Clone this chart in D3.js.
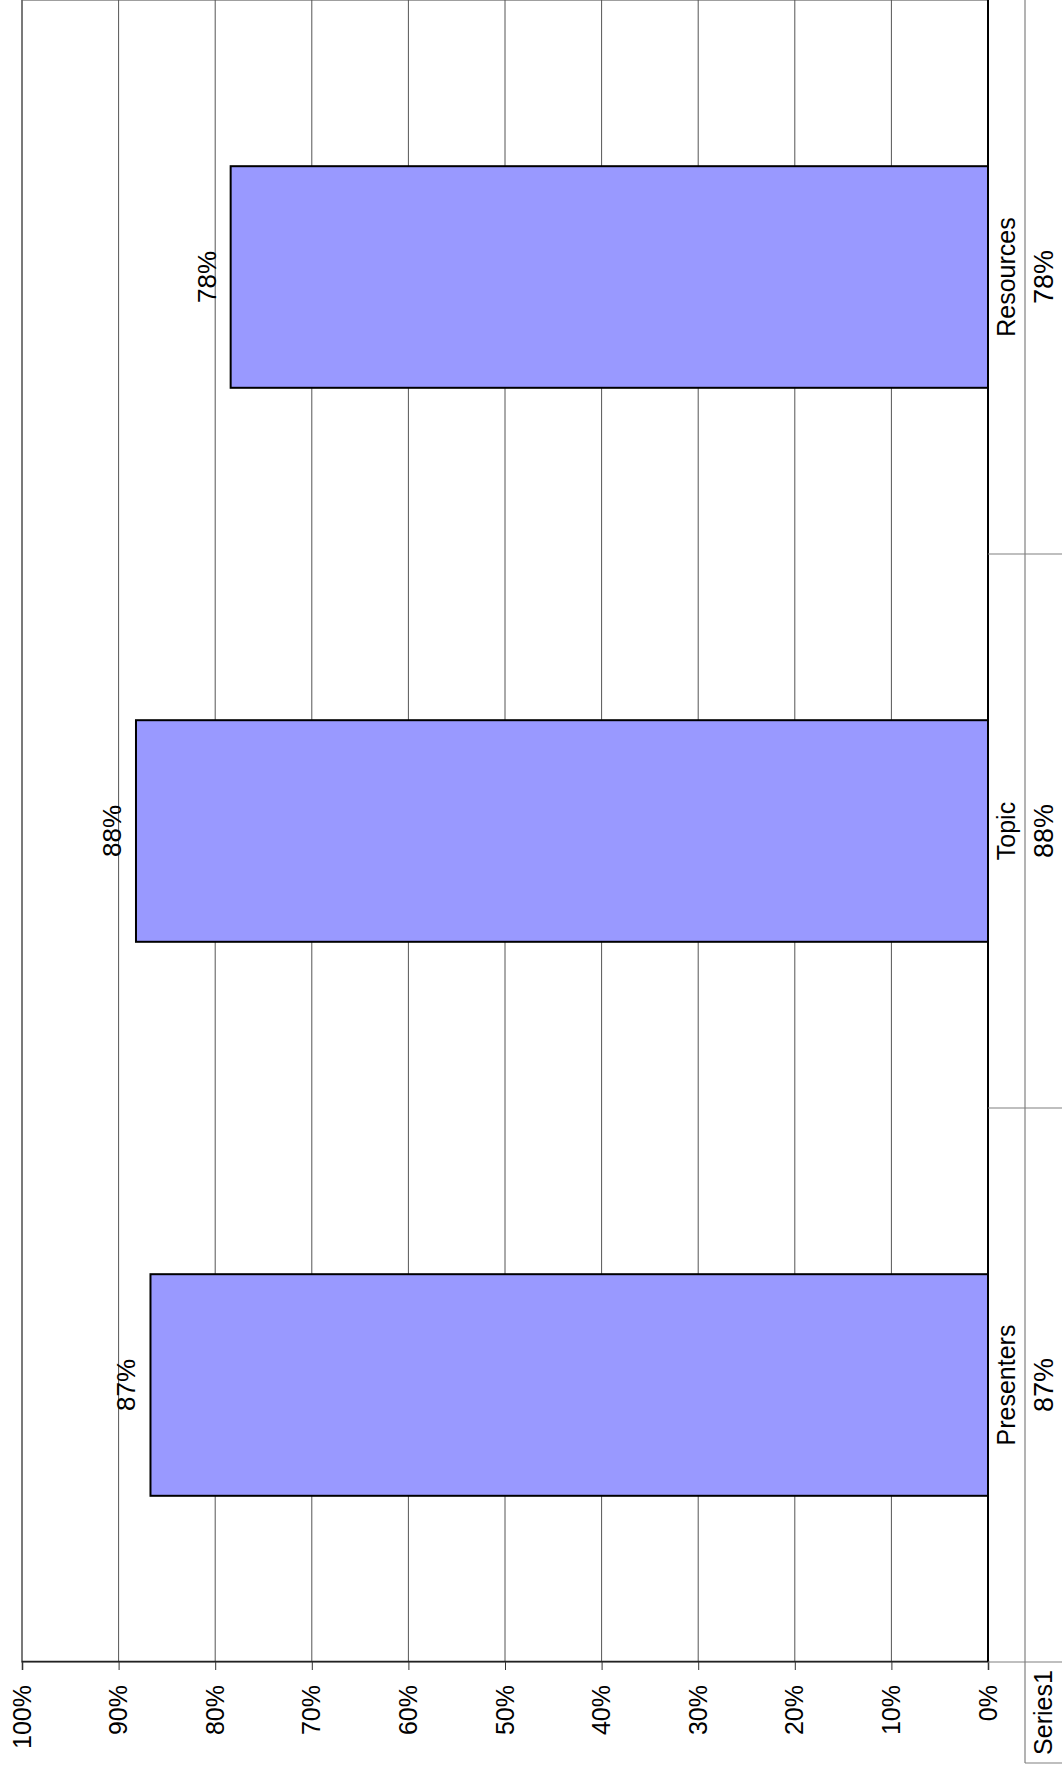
<!DOCTYPE html>
<html>
<head>
<meta charset="utf-8">
<script src="https://cdn.jsdelivr.net/npm/d3@7"></script>
<style>
    body { margin: 0; background: #fff; }
    text { font-family: 'Liberation Sans', Arial, sans-serif; fill: #000; }
</style>
</head>
<body>
<svg id="chart"></svg>
<script>
const categories = ['Presenters', 'Topic', 'Resources'];
const values = [0.867, 0.882, 0.784];
const seriesName = 'Series1';
const yTicks = [0, 0.1, 0.2, 0.3, 0.4, 0.5, 0.6, 0.7, 0.8, 0.9, 1.0];

// page is the chart turned on its side, so draw it "upright" then rotate
const pageW = 1062, pageH = 1769;
const W = pageH, H = pageW;
const plot = { left: 107, right: 1769, top: 22, bottom: 988 };
const rowCat = 1025;   // table: category row 988..1025, series row 1025..1062
const rowEnd = 1062;
const legendLeft = 6;

const svg = d3.select('#chart')
    .attr('width', pageW)
    .attr('height', pageH);

svg.append('rect')
    .attr('width', pageW).attr('height', pageH)
    .attr('fill', '#fff');

const g = svg.append('g')
    .attr('transform', `translate(0, ${pageH}) rotate(-90)`);

const xScale = d3.scaleBand()
    .domain(categories)
    .range([plot.left, plot.right])
    .paddingInner(0.6)
    .paddingOuter(0.3);

const yScale = d3.scaleLinear()
    .domain([0, 1])
    .range([plot.bottom, plot.top]);

const fmt = d3.format('.0%');

// plot border
g.append('rect')
    .attr('x', plot.left).attr('y', plot.top)
    .attr('width', plot.right - plot.left)
    .attr('height', plot.bottom - plot.top)
    .attr('fill', 'none')
    .attr('stroke', '#808080')
    .attr('stroke-width', 1.5);

// gridlines
g.selectAll('.grid')
    .data(yTicks.filter(d => d > 0))
    .enter()
    .append('line')
    .attr('class', 'grid')
    .attr('x1', plot.left).attr('x2', plot.right)
    .attr('y1', d => yScale(d)).attr('y2', d => yScale(d))
    .attr('stroke', '#555')
    .attr('stroke-width', 1);

// bars
g.selectAll('.bar')
    .data(values)
    .enter()
    .append('rect')
    .attr('class', 'bar')
    .attr('x', (d, i) => xScale(categories[i]))
    .attr('y', d => yScale(d))
    .attr('width', xScale.bandwidth())
    .attr('height', d => yScale(0) - yScale(d))
    .attr('fill', '#9999FF')
    .attr('stroke', '#000')
    .attr('stroke-width', 2);

// data labels
g.selectAll('.dlabel')
    .data(values)
    .enter()
    .append('text')
    .attr('class', 'dlabel')
    .attr('x', (d, i) => xScale(categories[i]) + xScale.bandwidth() / 2)
    .attr('y', d => yScale(d) - 15)
    .attr('text-anchor', 'middle')
    .style('font-size', '26px')
    .text(d => fmt(d));

// value axis
const yAxis = d3.axisLeft(yScale)
    .tickValues(yTicks)
    .tickFormat(fmt)
    .tickSize(8)
    .tickPadding(15);

const ya = g.append('g')
    .attr('class', 'y-axis')
    .attr('transform', `translate(${plot.left}, 0)`)
    .call(yAxis);
ya.select('.domain').attr('stroke', '#222').attr('stroke-width', 1.5);
ya.selectAll('.tick line').attr('stroke', '#333');
ya.selectAll('.tick text')
    .style('font-size', '25px')
    .style('font-family', "'Liberation Sans', Arial, sans-serif")
    .attr('fill', '#000');

// category axis line
g.append('line')
    .attr('x1', plot.left).attr('x2', plot.right)
    .attr('y1', plot.bottom).attr('y2', plot.bottom)
    .attr('stroke', '#000')
    .attr('stroke-width', 2);

// data table borders
const tableColor = '#808080';
const seps = [plot.left].concat(categories.slice(1).map(c => xScale(c) - xScale.step() * xScale.paddingInner() / 2));
g.selectAll('.sep')
    .data(seps)
    .enter()
    .append('line')
    .attr('class', 'sep')
    .attr('x1', d => d).attr('x2', d => d)
    .attr('y1', plot.bottom).attr('y2', rowEnd)
    .attr('stroke', tableColor)
    .attr('stroke-width', 1.2);

g.append('line')
    .attr('x1', legendLeft).attr('x2', plot.right)
    .attr('y1', rowCat).attr('y2', rowCat)
    .attr('stroke', tableColor)
    .attr('stroke-width', 1.2);

g.append('line')
    .attr('x1', legendLeft).attr('x2', legendLeft)
    .attr('y1', rowCat).attr('y2', rowEnd)
    .attr('stroke', tableColor)
    .attr('stroke-width', 1.2);

// category names
g.selectAll('.cat')
    .data(categories)
    .enter()
    .append('text')
    .attr('class', 'cat')
    .attr('x', d => xScale(d) + xScale.bandwidth() / 2)
    .attr('y', (plot.bottom + rowCat) / 2)
    .attr('dy', '0.35em')
    .attr('text-anchor', 'middle')
    .style('font-size', '25px')
    .text(d => d);

// table values
g.selectAll('.tval')
    .data(values)
    .enter()
    .append('text')
    .attr('class', 'tval')
    .attr('x', (d, i) => xScale(categories[i]) + xScale.bandwidth() / 2)
    .attr('y', (rowCat + rowEnd) / 2)
    .attr('dy', '0.35em')
    .attr('text-anchor', 'middle')
    .style('font-size', '27px')
    .text(d => fmt(d));

// series name cell
g.append('text')
    .attr('x', (legendLeft + plot.left) / 2)
    .attr('y', (rowCat + rowEnd) / 2)
    .attr('dy', '0.35em')
    .attr('text-anchor', 'middle')
    .style('font-size', '25px')
    .text(seriesName);
</script>
</body>
</html>
